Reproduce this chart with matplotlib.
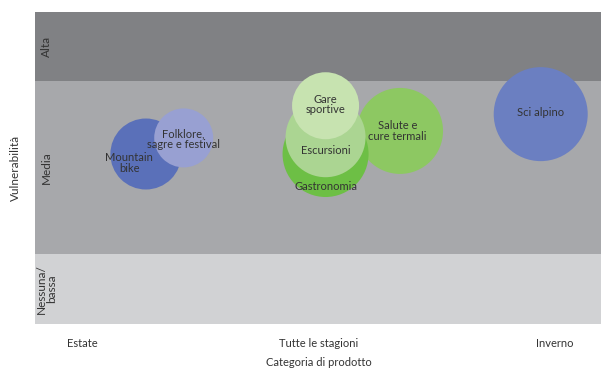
import matplotlib
matplotlib.use("Agg")
import matplotlib.pyplot as plt

plt.rcParams['font.family'] = ['Lato', 'DejaVu Sans']

# Categories (x) and vulnerability bands (y)
categories = ["Estate", "Tutte le stagioni", "Inverno"]
band_labels = ["Nessuna/\nbassa", "Media", "Alta"]
band_lo = [0.0, 1.0, 3.47]
band_hi = [1.0, 3.47, 4.46]
band_colors = ["#d1d2d4", "#a7a8ab", "#808184"]

# Bubbles
names = ["Salute e\ncure termali", "Mountain bike", "Folklore", "Gastronomia",
         "Escursioni", "Gare sportive", "Sci alpino"]
labels = ["Salute e\ncure termali", "Mountain\nbike", "Folklore,\nsagre e festival",
          "Gastronomia", "Escursioni", "Gare\nsportive", "Sci alpino"]
x_vals = [1.345, 0.27, 0.43, 1.03, 1.03, 1.03, 1.94]
y_vals = [2.76, 2.43, 2.66, 2.43, 2.67, 3.12, 3.00]
radius_px = [43, 35.5, 29.5, 43, 40, 33.5, 47]
colors = ["#8dc862", "#5a70b9", "#98a0d2", "#6dbf45", "#abd592", "#c7e3b0", "#6b7fc1"]
label_dx = [-0.01, -0.07, 0.0, 0.0, 0.0, 0.0, 0.0]
label_dy = [0.0, -0.13, -0.02, -0.47, -0.19, 0.02, 0.02]

dpi = 100
fig = plt.figure(figsize=(6.01, 3.69), dpi=dpi)
ax = fig.add_axes([35/601, 45/369, 566/601, 312/369])
ax.set_xlim(-0.199, 2.195)
ax.set_ylim(0, 4.46)

for lab, lo, hi, c in zip(band_labels, band_lo, band_hi, band_colors):
    ax.axhspan(lo, hi, color=c, lw=0, zorder=0)
    ax.text(-0.15, (lo + hi) / 2, lab, rotation=90, ha='center', va='center',
            fontsize=8.5, color="#333333", linespacing=0.95)

for i in range(len(names)):
    d_pt = 2 * radius_px[i] * 72 / dpi
    ax.scatter([x_vals[i]], [y_vals[i]], s=d_pt ** 2, color=colors[i],
               edgecolors='none', zorder=2 + i)
for i in range(len(names)):
    ax.text(x_vals[i] + label_dx[i], y_vals[i] + label_dy[i], labels[i],
            ha='center', va='center', fontsize=8, color="#333333",
            linespacing=0.95, zorder=20)

ax.set_xticks(range(len(categories)))
ax.set_xticklabels(categories, fontsize=8, color="#333333")
ax.tick_params(axis='x', length=0, pad=10)
ax.set_yticks([])
for s in ax.spines.values():
    s.set_visible(False)
fig.text(319/601, 1 - 363/369, "Categoria di prodotto", ha='center',
         va='center', fontsize=8, color="#333333")
fig.text(15/601, 1 - 168/369, "Vulnerabilità", rotation=90, ha='center',
         va='center', fontsize=8.5, color="#333333")

fig.savefig("out.png", dpi=dpi)
